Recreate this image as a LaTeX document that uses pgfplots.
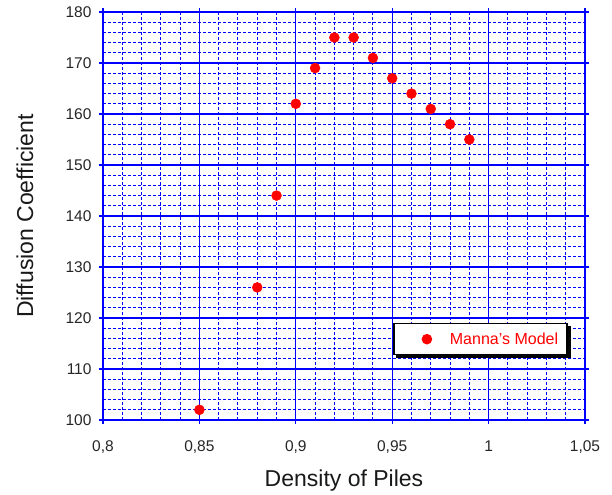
\documentclass[border=0pt]{standalone}
\usepackage{fontspec}
\setmainfont{Liberation Sans}
\usepackage{pgfplots}
\pgfplotsset{compat=1.18}
\definecolor{gridblue}{RGB}{0,0,255}
\definecolor{dotred}{RGB}{255,0,0}
\begin{document}
\begin{tikzpicture}
\begin{axis}[
  scale only axis, width=482pt, height=408pt,
  xmin=0.8, xmax=1.05, ymin=100, ymax=180,
  xtick={0.8,0.85,0.9,0.95,1,1.05},
  xticklabels={{0,8},{0,85},{0,9},{0,95},1,{1,05}},
  ytick={100,110,120,130,140,150,160,170,180},
  minor x tick num=4, minor y tick num=4,
  grid=both,
  major grid style={color=gridblue, line width=1.2pt, solid},
  minor grid style={color=gridblue, line width=1pt, dash pattern=on 3pt off 2pt},
  axis line style={color=gridblue, line width=1.6pt},
  tick align=outside, major tick length=4pt, minor tick length=0pt,
  major tick style={color=gridblue, line width=1.2pt},
  /pgf/number format/assume math mode=true,
  tick label style={font=\fontsize{15.5}{18}\selectfont, text=black!85},
  xticklabel style={anchor=base, yshift=-27pt},
  yticklabel style={anchor=east, xshift=-4pt},
  xlabel={Density of Piles}, ylabel={Diffusion Coefficient},
  label style={font=\fontsize{23}{27}\selectfont, text=black!90},
  xlabel style={at={(axis description cs:0.5,0)}, anchor=base, yshift=-66pt},
  ylabel style={at={(axis description cs:-0.1452,0.5)}, anchor=base},
  legend style={at={(0.602,0.238)}, anchor=north west, draw=black, line width=1.5pt,
    fill=white, font=\fontsize{16}{19}\selectfont, text=dotred,
    inner xsep=7pt, inner ysep=7pt, cells={anchor=west}, name=leg},
]
\addplot[only marks, mark=*, mark size=5pt, color=dotred,
  legend image code/.code={\fill[dotred] (26pt,0pt) circle (4.5pt); \path[draw=none,fill=none] (0pt,0pt) (47pt,0pt);}]
  coordinates {
  (0.85,102) (0.88,126) (0.89,144) (0.90,162) (0.91,169) (0.92,175) (0.93,175)
  (0.94,171) (0.95,167) (0.96,164) (0.97,161) (0.98,158) (0.99,155)
};
\addlegendentry{Manna's Model}
\end{axis}
\fill[black] ([xshift=3pt,yshift=-3pt]leg.south west) rectangle ([xshift=3pt]leg.south east);
\fill[black] ([yshift=-3pt]leg.south east) rectangle ([xshift=3pt,yshift=-3pt]leg.north east);
\path (-103pt,-73pt) rectangle (509pt,420pt);
\end{tikzpicture}
\end{document}
